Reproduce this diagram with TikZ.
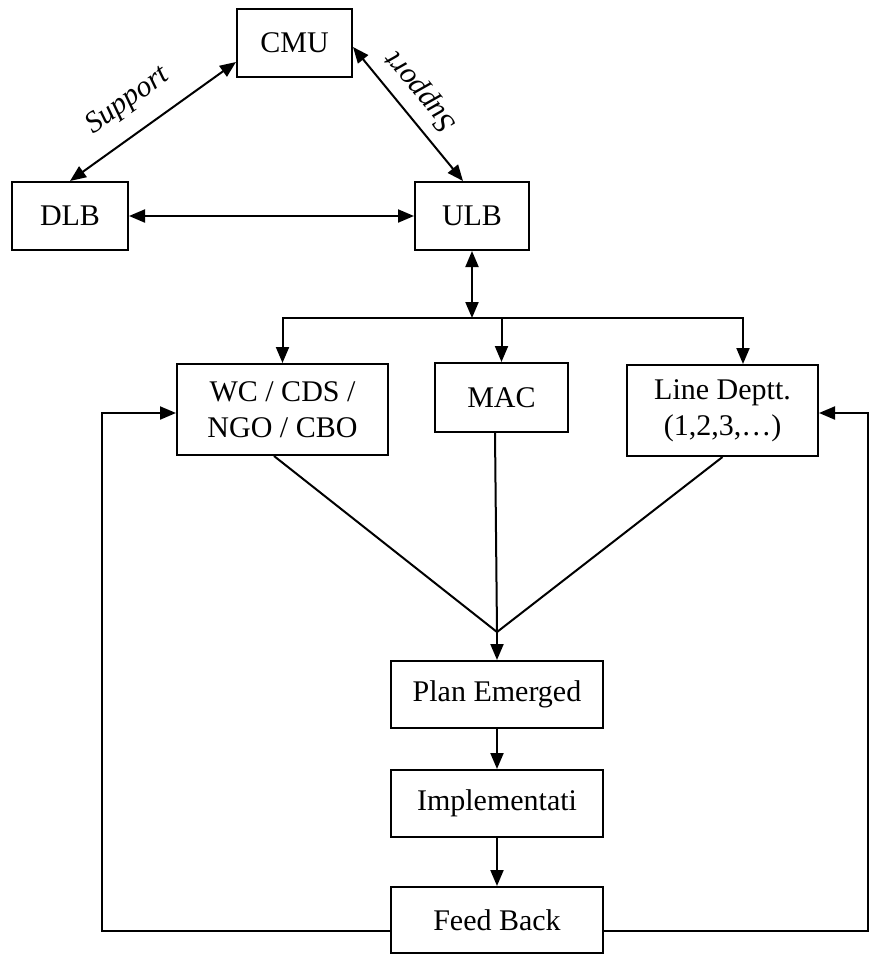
\documentclass[tikz,border=0pt]{standalone}
\usepackage{fontspec}
\setmainfont{Liberation Serif}
\usetikzlibrary{arrows.meta,calc}
\begin{document}
\begin{tikzpicture}[x=1pt,y=-1pt,
  box/.style={draw,line width=2pt,fill=white,inner sep=0pt,align=center,
    font=\fontsize{30}{36}\selectfont},
  conn/.style={line width=2pt},
  tip/.style={-{Triangle[length=16pt,width=13pt]}},
  both/.style={{Triangle[length=16pt,width=13pt]}-{Triangle[length=16pt,width=13pt]}},
  hand/.style={font=\fontsize{30}{34}\selectfont\itshape}]
\useasboundingbox (0,0) rectangle (871,954);
% boxes
\node[box,minimum width=115pt,minimum height=68pt] (cmu) at (294.5,43) {CMU};
\node[box,minimum width=116pt,minimum height=68pt] (dlb) at (70,216) {DLB};
\node[box,minimum width=114pt,minimum height=68pt] (ulb) at (472,216) {ULB};
\node[box,minimum width=211pt,minimum height=91pt] (wc) at (282.5,409.5) {WC / CDS /\\NGO / CBO};
\node[box,minimum width=133pt,minimum height=69pt] (mac) at (501.5,397.5) {MAC};
\node[box,minimum width=191pt,minimum height=91pt] (line) at (722.5,410.5) {Line Deptt.\\(1,2,3,\dots)};
\node[box,minimum width=212pt,minimum height=67pt] (plan) at (497,694.5) {Plan Emerged};
\node[box,minimum width=212pt,minimum height=67pt] (impl) at (497,803.5) {Implementati};
\node[box,minimum width=212pt,minimum height=66pt] (feed) at (497,920) {Feed Back};
% coordinates
\coordinate (br) at (472,318);
\coordinate (cv) at (497,632);
\coordinate (lc) at (102,931);
\coordinate (rc) at (868,931);
% top triangle
\draw[conn,both] (dlb.north) -- ([yshift=-19pt]cmu.west);
\draw[conn,both] ([yshift=-4pt]cmu.east) -- ([xshift=-9pt]ulb.north);
\draw[conn,both] (dlb.east) -- (ulb.west);
\node[hand,rotate=35.7] (sup1) at (128,101) {Support};
\node[hand,rotate=129.6] (sup2) at (421,91) {Support};
% ULB to branch
\draw[conn,both] (ulb.south) -- (br);
\draw[conn,tip] (br) -| (wc.north);
\draw[conn,tip] (br) -| (mac.north);
\draw[conn,tip] (br) -| ([xshift=20.5pt]line.north);
% converge
\draw[conn] ([xshift=-8.5pt]wc.south) -- (cv);
\draw[conn] ([xshift=-6.5pt]mac.south) -- (cv);
\draw[conn] (line.south) -- (cv);
\draw[conn,tip] (cv) -- (plan.north);
\draw[conn,tip] (plan.south) -- (impl.north);
\draw[conn,tip] (impl.south) -- (feed.north);
% feedback loops
\draw[conn,tip] ([yshift=-11pt]feed.west) -- (lc) |- ([yshift=-3.5pt]wc.west);
\draw[conn,tip] ([yshift=-11pt]feed.east) -- (rc) |- ([yshift=-2.5pt]line.east);
\end{tikzpicture}
\end{document}
